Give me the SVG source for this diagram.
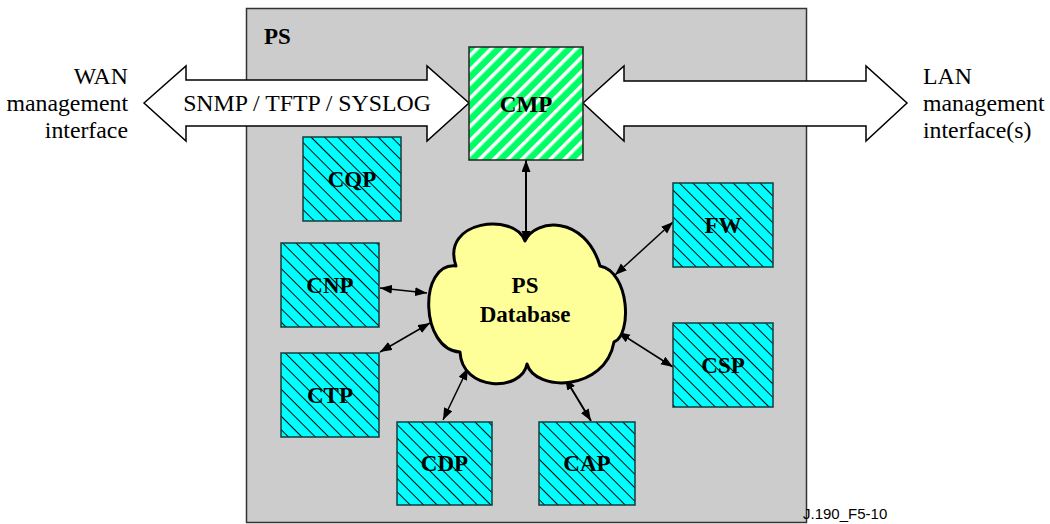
<svg xmlns="http://www.w3.org/2000/svg" width="1050" height="524" viewBox="0 0 1050 524">
<style>
.reg{font-family:"Liberation Serif","Times New Roman",serif;font-size:23.8px;fill:#000}
.bold{font-family:"Liberation Serif","Times New Roman",serif;font-size:23px;font-weight:bold;fill:#000;text-anchor:middle}
.node{fill:url(#hatch);stroke:#143c3c;stroke-width:1.5}
.conn{stroke:#000;stroke-width:1.5;fill:none;marker-start:url(#ah);marker-end:url(#ah)}
.big{fill:#fff;stroke:#000;stroke-width:1.5;stroke-linejoin:miter}
</style>
<defs>
<pattern id="hatch" patternUnits="userSpaceOnUse" width="9.5" height="9.5" patternTransform="rotate(45)">
<rect width="9.5" height="9.5" fill="#00FFFF"/>
<line x1="0" y1="0.5" x2="9.5" y2="0.5" stroke="#000" stroke-width="1"/>
</pattern>
<pattern id="stripe" patternUnits="userSpaceOnUse" width="10" height="10" patternTransform="rotate(-45)">
<rect width="10" height="10" fill="#00FF66"/>
<rect x="0" y="0" width="10" height="3.5" fill="#fff"/>
</pattern>
<marker id="ah" markerUnits="userSpaceOnUse" markerWidth="13" markerHeight="10" refX="12" refY="4.5" orient="auto-start-reverse">
<path d="M0,0 L12,4.5 L0,9 z" fill="#000"/>
</marker>
</defs>
<rect x="246.5" y="8.5" width="560" height="514" fill="#CCCCCC" stroke="#333" stroke-width="1.5"/>
<text class="bold" x="264" y="44" style="text-anchor:start">PS</text>
<g id="wan-arrow">
<polygon class="big" points="144,103 186,66 186,80 427,80 427,66 469,103 427,141 427,126 186,126 186,141"/>
<text class="reg" x="307" y="111" text-anchor="middle">SNMP / TFTP / SYSLOG</text>
</g>
<g id="lan-arrow">
<polygon class="big" points="583,103 624,66 624,81 866,81 866,66 907,103 866,141 866,126 624,126 624,141"/>
</g>
<g id="wan-label">
<text class="reg" x="128" y="84" text-anchor="end">WAN</text>
<text class="reg" x="128" y="111" text-anchor="end">management</text>
<text class="reg" x="128" y="138" text-anchor="end">interface</text>
</g>
<g id="lan-label">
<text class="reg" x="923" y="84">LAN</text>
<text class="reg" x="923" y="111">management</text>
<text class="reg" x="923" y="138">interface(s)</text>
</g>
<g id="connectors">
<line class="conn" x1="526" y1="160" x2="526" y2="243" style="stroke-width:2"/>
<line class="conn" x1="380" y1="288" x2="427" y2="293"/>
<line class="conn" x1="380" y1="352" x2="430" y2="323"/>
<line class="conn" x1="468" y1="368" x2="443" y2="420"/>
<line class="conn" x1="565" y1="378" x2="591" y2="421" style="stroke-width:2"/>
<line class="conn" x1="673" y1="222" x2="615" y2="275"/>
<line class="conn" x1="618" y1="332" x2="673" y2="367"/>
</g>
<g id="CMP">
<rect x="469" y="47" width="114" height="113" fill="url(#stripe)" stroke="#222" stroke-width="1.5"/>
<text class="bold" x="526" y="112">CMP</text>
</g>
<g id="CQP">
<rect class="node" x="303" y="137" width="98" height="84"/>
<text class="bold" x="352" y="187">CQP</text>
</g>
<g id="CNP">
<rect class="node" x="281" y="243" width="98" height="84"/>
<text class="bold" x="330" y="293">CNP</text>
</g>
<g id="CTP">
<rect class="node" x="281" y="353" width="98" height="84"/>
<text class="bold" x="330" y="403">CTP</text>
</g>
<g id="CDP">
<rect class="node" x="397" y="422" width="95" height="83"/>
<text class="bold" x="444.5" y="471">CDP</text>
</g>
<g id="CAP">
<rect class="node" x="539" y="422" width="96" height="83"/>
<text class="bold" x="587" y="471">CAP</text>
</g>
<g id="FW">
<rect class="node" x="673" y="183" width="100" height="84"/>
<text class="bold" x="723" y="233">FW</text>
</g>
<g id="CSP">
<rect class="node" x="673" y="323" width="100" height="84"/>
<text class="bold" x="723" y="373">CSP</text>
</g>
<g id="PSDatabase">
<path d="M525,241 C535,218 585,215 600,266 C630,272 632,335 614,342 C605,392 535,392 527,364 C522,392 462,392 460,352 C420,350 418,262 456,266 C440,220 515,212 525,241 Z" fill="#FFFF99" stroke="#000" stroke-width="3" stroke-linejoin="round"/>
<text class="bold" x="525" y="293">PS</text>
<text class="bold" x="525" y="322">Database</text>
</g>
<text x="803" y="519" style="font-family:'Liberation Sans',Arial,sans-serif;font-size:15px;fill:#000">J.190_F5-10</text>
</svg>
